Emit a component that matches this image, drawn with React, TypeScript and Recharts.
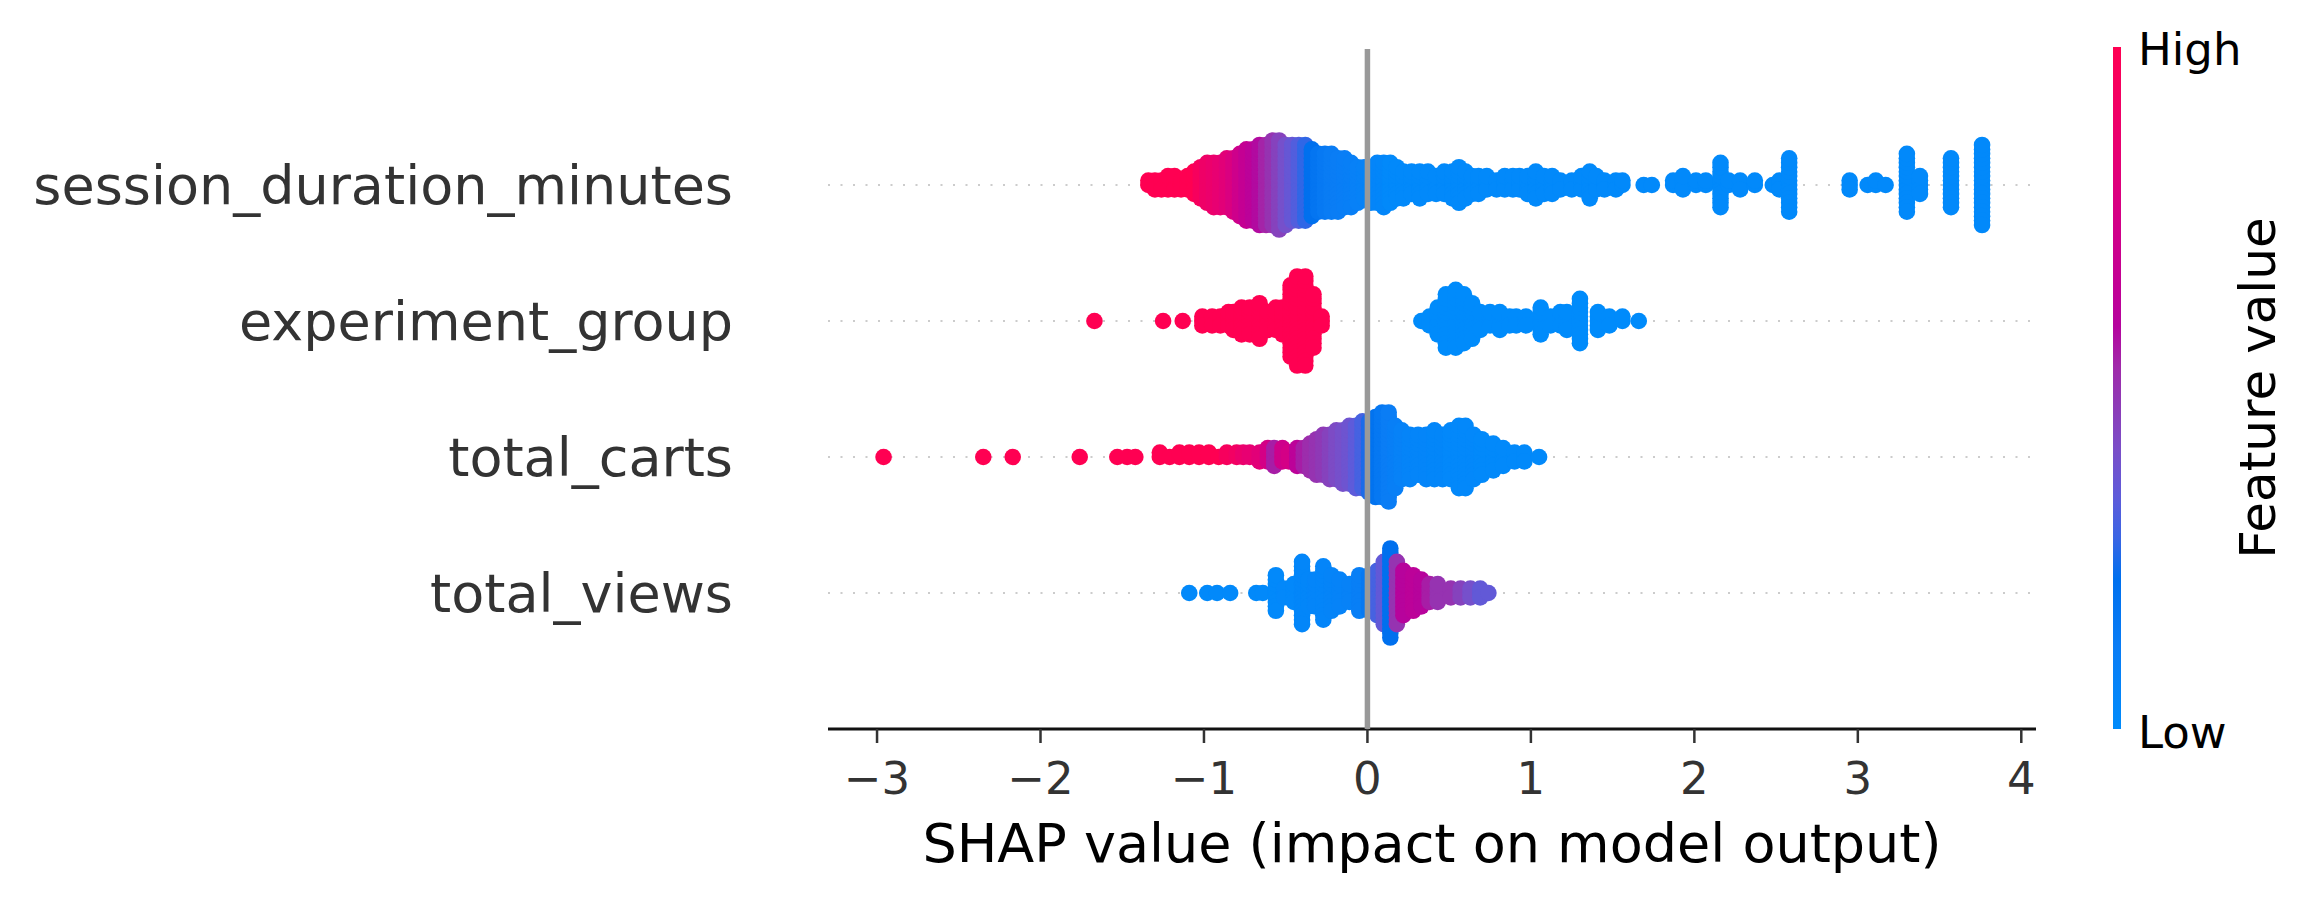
import React from 'react';
import { ScatterChart, Scatter, XAxis, YAxis, ReferenceLine } from 'recharts';

const W = 2319;
const H = 902;
const FONT = '"DejaVu Sans", sans-serif';

// feature rows, top to bottom
const features = ['session_duration_minutes', 'experiment_group', 'total_carts', 'total_views'];
const xTicks = [-3, -2, -1, 0, 1, 2, 3, 4];

// SHAP value bins per feature: value, number of samples, feature level (0 = low, 1 = high)
const sessionX = [-1.34, -1.30, -1.26, -1.22, -1.18, -1.14, -1.10, -1.06, -1.02, -0.98, -0.94, -0.90, -0.86, -0.82, -0.78, -0.74, -0.70, -0.66, -0.62, -0.58, -0.54, -0.50, -0.46, -0.42, -0.38, -0.34, -0.30, -0.26, -0.22, -0.18, -0.14, -0.10, -0.06, -0.02, 0.02, 0.06, 0.10, 0.14, 0.18, 0.22, 0.27, 0.32, 0.37, 0.42, 0.47, 0.52, 0.56, 0.60, 0.64, 0.68, 0.73, 0.79, 0.84, 0.89, 0.93, 0.98, 1.03, 1.08, 1.13, 1.18, 1.25, 1.31, 1.36, 1.40, 1.45, 1.52, 1.56, 1.69, 1.74, 1.87, 1.93, 2.01, 2.07, 2.16, 2.21, 2.28, 2.37, 2.48, 2.52, 2.58, 2.95, 3.06, 3.11, 3.17, 3.30, 3.38, 3.57, 3.76];
const sessionN = [2, 3, 3, 4, 4, 3, 4, 6, 8, 10, 11, 11, 12, 13, 15, 17, 17, 19, 19, 20, 21, 19, 18, 18, 18, 16, 14, 14, 14, 13, 12, 11, 9, 8, 9, 10, 11, 10, 8, 7, 6, 7, 6, 5, 6, 7, 9, 7, 5, 5, 4, 3, 4, 4, 4, 5, 7, 5, 5, 3, 3, 4, 7, 4, 3, 3, 2, 1, 1, 2, 4, 2, 2, 11, 2, 3, 2, 1, 3, 13, 3, 1, 2, 1, 14, 5, 12, 19];
const sessionLevel = [1, 1, 1, 1, 1, 1, 1, 1, 0.95, 0.9, 0.88, 0.85, 0.82, 0.78, 0.72, 0.66, 0.62, 0.58, 0.54, 0.5, 0.45, 0.4, 0.36, 0.32, 0.27, 0.22, 0.18, 0.15, 0.13, 0.12, 0.11, 0.1, 0.09, 0.08, 0.06, 0.05, 0.04, 0.02, 0.02, 0.02, 0.02, 0.02, 0.02, 0.02, 0.02, 0.02, 0.02, 0.02, 0.02, 0.02, 0.02, 0.02, 0.02, 0.02, 0.02, 0.02, 0.02, 0.02, 0.02, 0.02, 0.02, 0.02, 0.02, 0.02, 0.02, 0.02, 0.02, 0.02, 0.02, 0.02, 0.02, 0.02, 0.02, 0.02, 0.02, 0.02, 0.02, 0.02, 0.02, 0.02, 0.02, 0.02, 0.02, 0.02, 0.02, 0.02, 0.02, 0.02];

const groupX = [-1.67, -1.25, -1.13, -1.01, -0.95, -0.90, -0.85, -0.82, -0.77, -0.72, -0.66, -0.61, -0.56, -0.52, -0.47, -0.43, -0.38, -0.33, -0.28, 0.33, 0.38, 0.43, 0.48, 0.54, 0.59, 0.64, 0.69, 0.75, 0.81, 0.87, 0.91, 0.97, 1.06, 1.12, 1.18, 1.22, 1.30, 1.41, 1.48, 1.56, 1.66];
const groupN = [1, 1, 1, 3, 3, 3, 4, 5, 7, 7, 9, 5, 6, 7, 17, 21, 21, 13, 3, 1, 3, 7, 13, 14, 12, 9, 5, 4, 5, 3, 3, 3, 7, 3, 4, 5, 11, 5, 3, 2, 1];
const groupLevel = [1, 1, 1, 1, 1, 1, 1, 1, 1, 1, 1, 1, 1, 1, 1, 1, 1, 1, 1, 0, 0, 0, 0, 0, 0, 0, 0, 0, 0, 0, 0, 0, 0, 0, 0, 0, 0, 0, 0, 0, 0];

const cartsX = [-2.96, -2.35, -2.17, -1.76, -1.53, -1.47, -1.42, -1.27, -1.21, -1.15, -1.09, -1.03, -0.97, -0.91, -0.86, -0.80, -0.76, -0.72, -0.66, -0.61, -0.57, -0.52, -0.48, -0.43, -0.39, -0.35, -0.31, -0.27, -0.23, -0.19, -0.15, -0.11, -0.07, -0.03, 0.01, 0.05, 0.09, 0.13, 0.17, 0.21, 0.26, 0.31, 0.36, 0.41, 0.46, 0.51, 0.56, 0.60, 0.65, 0.70, 0.77, 0.83, 0.90, 0.96, 1.05];
const cartsN = [1, 1, 1, 1, 1, 1, 1, 2, 1, 2, 2, 2, 2, 1, 2, 2, 2, 2, 3, 4, 5, 4, 3, 5, 5, 7, 9, 10, 11, 12, 13, 14, 15, 16, 17, 19, 20, 21, 15, 12, 11, 10, 11, 12, 11, 12, 15, 15, 11, 9, 7, 5, 3, 3, 1];
const cartsLevel = [1, 1, 1, 1, 1, 1, 1, 1, 1, 1, 1, 1, 1, 1, 0.95, 0.92, 0.88, 0.85, 0.82, 0.75, 0.55, 0.72, 0.75, 0.62, 0.55, 0.52, 0.5, 0.48, 0.45, 0.42, 0.4, 0.38, 0.34, 0.3, 0.25, 0.2, 0.16, 0.12, 0.1, 0.08, 0.06, 0.05, 0.05, 0.04, 0.04, 0.03, 0.03, 0.03, 0.03, 0.02, 0.02, 0.02, 0.02, 0.02, 0.02];

const viewsX = [-1.09, -0.98, -0.92, -0.84, -0.68, -0.64, -0.56, -0.51, -0.45, -0.40, -0.36, -0.32, -0.27, -0.22, -0.17, -0.11, -0.05, 0.01, 0.06, 0.10, 0.14, 0.18, 0.22, 0.28, 0.33, 0.38, 0.43, 0.51, 0.57, 0.63, 0.69, 0.74];
const viewsN = [1, 1, 1, 1, 1, 1, 9, 3, 5, 15, 7, 7, 13, 9, 7, 5, 9, 9, 11, 15, 21, 15, 11, 9, 7, 5, 5, 3, 3, 3, 3, 1];
const viewsLevel = [0.02, 0.02, 0.02, 0.02, 0.02, 0.02, 0.02, 0.03, 0.03, 0.04, 0.04, 0.05, 0.05, 0.06, 0.07, 0.08, 0.1, 0.15, 0.3, 0.35, 0.22, 0.5, 0.6, 0.62, 0.6, 0.55, 0.5, 0.5, 0.45, 0.4, 0.35, 0.35];

// blue -> purple -> red feature value colormap
const cmapStops = [0, 0.12, 0.22, 0.28, 0.34, 0.41, 0.47, 0.53, 0.59, 0.64, 0.74, 0.84, 1];
const cmapColors = ['#008bfb', '#0a7df5', '#0070ee', '#3a65e4', '#5e5bda', '#7a4ec8', '#8c3cb8', '#a02aaa', '#b5049e', '#c00096', '#d20088', '#e60074', '#ff0052'];

const hexRgb = (h: string) => [1, 3, 5].map((i) => parseInt(h.slice(i, i + 2), 16));

const colorAt = (t: number) => {
  let i = 0;
  while (i < cmapStops.length - 2 && t > cmapStops[i + 1]) i++;
  const f = Math.min(1, Math.max(0, (t - cmapStops[i]) / (cmapStops[i + 1] - cmapStops[i])));
  const a = hexRgb(cmapColors[i]);
  const b = hexRgb(cmapColors[i + 1]);
  const c = a.map((v, k) => Math.round(v + (b[k] - v) * f));
  return `rgb(${c[0]},${c[1]},${c[2]})`;
};

// beeswarm stacking: samples in a bin alternate above/below the row line
const swarm = (xs: number[], ns: number[], levels: number[], row: number) => {
  const maxLayer = Math.max(...ns.map((n) => Math.floor(n / 2)));
  const step = (0.9 * 0.4) / (maxLayer + 1);
  const pts: { x: number; y: number; c: string }[] = [];
  xs.forEach((x, i) => {
    const c = colorAt(levels[i]);
    for (let k = 0; k < ns[i]; k++) {
      const layer = Math.ceil(k / 2);
      const sign = k % 2 === 1 ? 1 : -1;
      pts.push({ x, y: row + sign * layer * step, c });
    }
  });
  return pts;
};

const nRows = features.length;
const rowPos = (i: number) => nRows - 1 - i;

const rows = [
  swarm(sessionX, sessionN, sessionLevel, rowPos(0)),
  swarm(groupX, groupN, groupLevel, rowPos(1)),
  swarm(cartsX, cartsN, cartsLevel, rowPos(2)),
  swarm(viewsX, viewsN, viewsLevel, rowPos(3)),
];

const Dot = (props: any) => <circle cx={props.cx} cy={props.cy} r={8.3} fill={props.payload.c} />;

const YTick = ({ x, y, payload }: any) => (
  <text x={x} y={y} dy={19} textAnchor="end" fontSize={54} fill="#333333" fontFamily={FONT}>
    {features[nRows - 1 - payload.value]}
  </text>
);

const XTick = ({ x, y, payload }: any) => (
  <text x={x} y={y} dy="0.71em" textAnchor="middle" fontSize={45} fill="#333333" fontFamily={FONT}>
    {String(payload.value).replace('-', '\u2212')}
  </text>
);

const App: React.FC = () => {
  return (
    <div style={{ position: 'absolute', left: 0, top: 0, width: W, height: H, background: '#fff' }}>
      <ScatterChart width={W} height={H} margin={{ top: 49, right: 283, bottom: 93, left: 0 }}>
        <XAxis
          type="number"
          dataKey="x"
          domain={[-3.3, 4.09]}
          ticks={xTicks}
          allowDataOverflow
          height={80}
          tickSize={14}
          tickMargin={19}
          tickLine={{ stroke: '#333333', strokeWidth: 2.5 }}
          axisLine={{ stroke: '#111111', strokeWidth: 3 }}
          tick={<XTick />}
        />
        <YAxis
          type="number"
          dataKey="y"
          domain={[-1, nRows]}
          ticks={features.map((_, i) => rowPos(i))}
          width={828}
          tickSize={0}
          tickMargin={95}
          tickLine={false}
          axisLine={false}
          tick={<YTick />}
        />
        {features.map((f, i) => (
          <ReferenceLine key={f} y={rowPos(i)} stroke="#cccccc" strokeWidth={2} strokeDasharray="2 10.5" />
        ))}
        {rows.map((data, i) => (
          <Scatter key={features[i]} data={data} shape={Dot} isAnimationActive={false} />
        ))}
        {/* zero line sits over the dots */}
        <ReferenceLine x={0} stroke="#999999" strokeWidth={5.5} zIndex={1000} />
      </ScatterChart>
      <svg width={W} height={H} style={{ position: 'absolute', left: 0, top: 0, pointerEvents: 'none' }}>
        <defs>
          <linearGradient id="cbar" x1="0" y1="1" x2="0" y2="0">
            {cmapStops.map((s, i) => (
              <stop key={s} offset={s} stopColor={cmapColors[i]} />
            ))}
          </linearGradient>
        </defs>
        <text x={1432} y={862} textAnchor="middle" fontSize={54} fill="#000" fontFamily={FONT}>
          SHAP value (impact on model output)
        </text>
        <rect x={2113} y={47} width={8} height={682} fill="url(#cbar)" />
        <text x={2138} y={65} fontSize={45} fill="#000" fontFamily={FONT}>
          High
        </text>
        <text x={2138} y={748} fontSize={45} fill="#000" fontFamily={FONT}>
          Low
        </text>
        <text transform="translate(2275,388) rotate(-90)" textAnchor="middle" fontSize={50} fill="#000" fontFamily={FONT}>
          Feature value
        </text>
      </svg>
    </div>
  );
};

export default App;
